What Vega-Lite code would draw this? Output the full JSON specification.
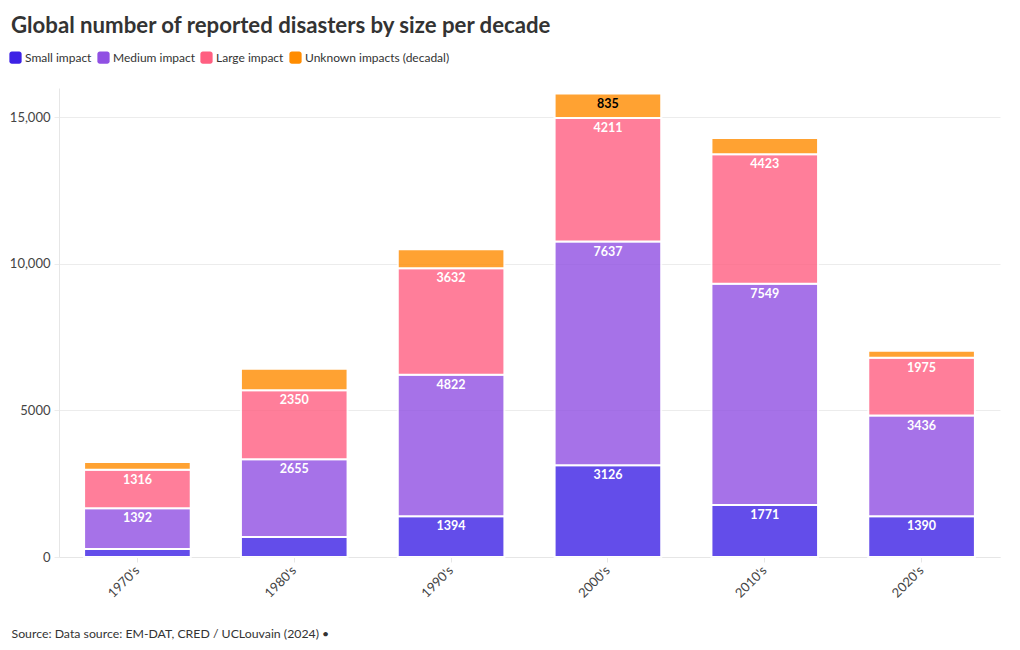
{
  "$schema": "https://vega.github.io/schema/vega-lite/v6.json",
  "width": 941,
  "height": 469,
  "autosize": {"type": "none"},
  "padding": {"left": 59, "top": 88, "right": 20, "bottom": 93},
  "background": "white",
  "config": {
    "font": "Lato",
    "view": {"stroke": null},
    "axis": {"labelFont": "Lato", "titleFont": "Lato"}
  },
  "title": {
    "text": "Global number of reported disasters by size per decade",
    "anchor": "start",
    "frame": "group",
    "dx": -48,
    "offset": 14,
    "fontSize": 22.2,
    "fontWeight": "bold",
    "color": "#333333",
    "font": "Lato"
  },
  "data": {
    "values": [
      {"decade": "1970's", "impact": "Small impact", "k": 1, "value": 270},
      {"decade": "1970's", "impact": "Medium impact", "k": 2, "value": 1392},
      {"decade": "1970's", "impact": "Large impact", "k": 3, "value": 1316},
      {"decade": "1970's", "impact": "Unknown impacts (decadal)", "k": 4, "value": 265},
      {"decade": "1980's", "impact": "Small impact", "k": 1, "value": 680},
      {"decade": "1980's", "impact": "Medium impact", "k": 2, "value": 2655},
      {"decade": "1980's", "impact": "Large impact", "k": 3, "value": 2350},
      {"decade": "1980's", "impact": "Unknown impacts (decadal)", "k": 4, "value": 740},
      {"decade": "1990's", "impact": "Small impact", "k": 1, "value": 1394},
      {"decade": "1990's", "impact": "Medium impact", "k": 2, "value": 4822},
      {"decade": "1990's", "impact": "Large impact", "k": 3, "value": 3632},
      {"decade": "1990's", "impact": "Unknown impacts (decadal)", "k": 4, "value": 650},
      {"decade": "2000's", "impact": "Small impact", "k": 1, "value": 3126},
      {"decade": "2000's", "impact": "Medium impact", "k": 2, "value": 7637},
      {"decade": "2000's", "impact": "Large impact", "k": 3, "value": 4211},
      {"decade": "2000's", "impact": "Unknown impacts (decadal)", "k": 4, "value": 835},
      {"decade": "2010's", "impact": "Small impact", "k": 1, "value": 1771},
      {"decade": "2010's", "impact": "Medium impact", "k": 2, "value": 7549},
      {"decade": "2010's", "impact": "Large impact", "k": 3, "value": 4423},
      {"decade": "2010's", "impact": "Unknown impacts (decadal)", "k": 4, "value": 555},
      {"decade": "2020's", "impact": "Small impact", "k": 1, "value": 1390},
      {"decade": "2020's", "impact": "Medium impact", "k": 2, "value": 3436},
      {"decade": "2020's", "impact": "Large impact", "k": 3, "value": 1975},
      {"decade": "2020's", "impact": "Unknown impacts (decadal)", "k": 4, "value": 235}
    ]
  },
  "encoding": {
    "x": {
      "field": "decade",
      "type": "nominal",
      "sort": null,
      "scale": {"paddingInner": 0.32, "paddingOuter": 0.16},
      "axis": {
        "title": "Source: Data source: EM-DAT, CRED / UCLouvain (2024) •",
        "titleAnchor": "start",
        "titleAlign": "left",
        "titleX": -48,
        "titleY": 70,
        "titleFontSize": 12.3,
        "titleFontWeight": "normal",
        "titleColor": "#333333",
        "labelAngle": -45,
        "labelAlign": "right",
        "labelBaseline": "middle",
        "labelFontSize": 13,
        "labelColor": "#444444",
        "labelPadding": 6,
        "domainColor": "#e6e6e6",
        "tickColor": "#e6e6e6",
        "tickSize": 5
      }
    },
    "y": {
      "field": "value",
      "type": "quantitative",
      "stack": "zero",
      "scale": {"domain": [0, 16000], "nice": false},
      "axis": {
        "title": null,
        "values": [0, 5000, 10000, 15000],
        "labelExpr": "datum.value >= 10000 ? format(datum.value, ',') : format(datum.value, 'd')",
        "labelFontSize": 13,
        "labelColor": "#444444",
        "labelPadding": 4,
        "gridColor": "#ececec",
        "domain": true,
        "domainColor": "#e6e6e6",
        "tickColor": "#ececec",
        "tickSize": 5
      }
    },
    "order": {"field": "k", "type": "quantitative"}
  },
  "layer": [
    {
      "mark": {"type": "bar", "stroke": "white", "strokeWidth": 2, "opacity": 0.8},
      "encoding": {
        "color": {
          "field": "impact",
          "type": "nominal",
          "sort": ["Small impact", "Medium impact", "Large impact", "Unknown impacts (decadal)"],
          "scale": {
            "domain": ["Small impact", "Medium impact", "Large impact", "Unknown impacts (decadal)"],
            "range": ["#3d21e5", "#9050e3", "#ff5f81", "#ff8c00"]
          },
          "legend": {
            "title": null,
            "orient": "none",
            "direction": "horizontal",
            "legendX": -50,
            "legendY": -37,
            "symbolType": "M-0.6,-1H0.6A0.4,0.4 0 0 1 1,-0.6V0.6A0.4,0.4 0 0 1 0.6,1H-0.6A0.4,0.4 0 0 1 -1,0.6V-0.6A0.4,0.4 0 0 1 -0.6,-1Z",
            "symbolSize": 150,
            "symbolOpacity": 1,
            "symbolStrokeWidth": 0,
            "labelFontSize": 12,
            "labelColor": "#333333",
            "labelOffset": 3,
            "columnPadding": 5,
            "symbolOffset": 0
          }
        }
      }
    },
    {
      "mark": {"type": "text", "baseline": "top", "dy": 4, "fontSize": 12.5, "fontWeight": "bold"},
      "encoding": {
        "text": {
          "condition": {"test": "datum.value < 800", "value": ""},
          "field": "value",
          "type": "quantitative",
          "format": "d"
        },
        "color": {
          "condition": {"test": "datum.k == 4", "value": "#000000"},
          "value": "#ffffff"
        }
      }
    }
  ]
}
